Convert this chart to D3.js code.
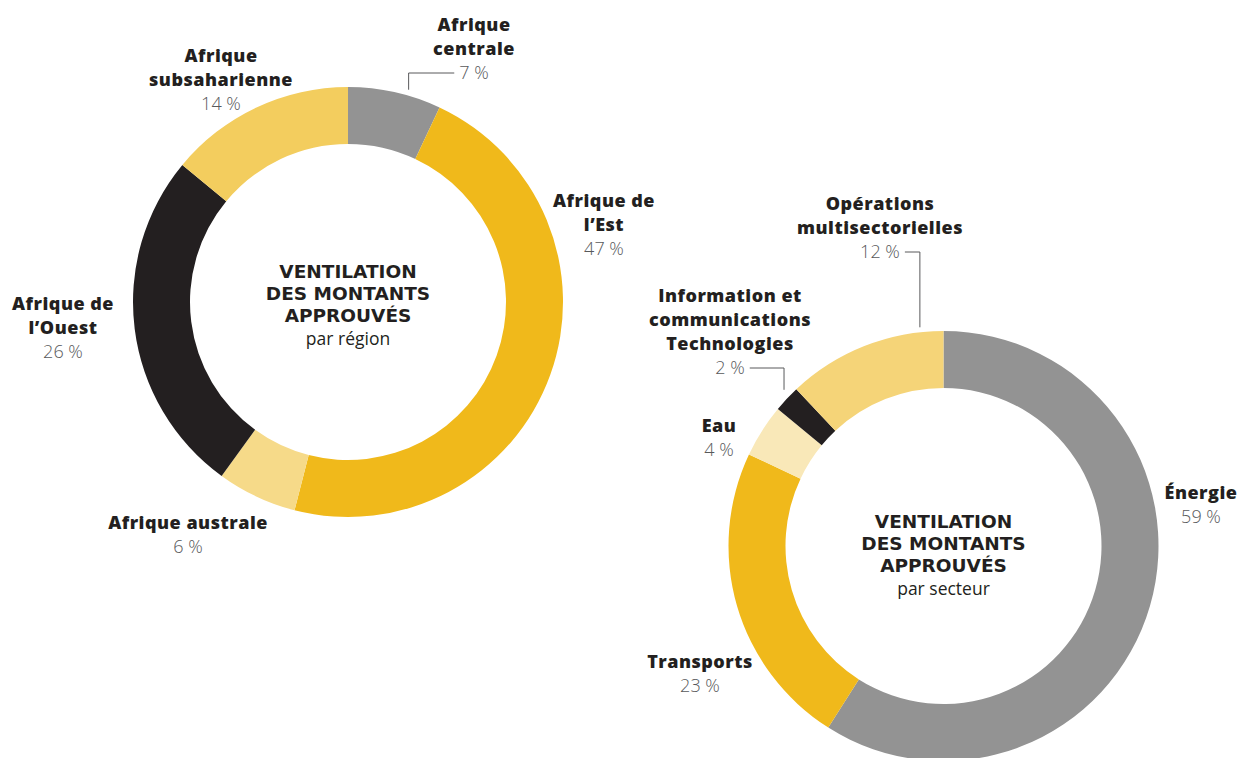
<!DOCTYPE html>
<html>
<head>
<meta charset="utf-8">
<script src="https://cdn.jsdelivr.net/npm/d3@7"></script>
<style>
  body { margin: 0; background: #fff; }
  svg { display: block; }
</style>
</head>
<body>
<div id="chart"></div>
<script>
// Data: region breakdown (clockwise from 12 o'clock)
const regions = [
  ['Afrique', 'centrale'],
  ['Afrique de', 'l\u2019Est'],
  ['Afrique australe'],
  ['Afrique de', 'l\u2019Ouest'],
  ['Afrique', 'subsaharienne']
];
const regionValues = [7, 47, 6, 26, 14];
const regionColors = ['#939393', '#f0b91b', '#f6da89', '#231f20', '#f3cd5e'];

// Data: sector breakdown (clockwise from 12 o'clock)
const sectors = [
  ['\u00c9nergie'],
  ['Transports'],
  ['Eau'],
  ['Information et', 'communications', 'Technologies'],
  ['Op\u00e9rations', 'multisectorielles']
];
const sectorValues = [59, 23, 4, 2, 12];
const sectorColors = ['#939393', '#f0b91b', '#f9e8b8', '#231f20', '#f5d478'];

const centerTitle = ['VENTILATION', 'DES MONTANTS', 'APPROUV\u00c9S'];

// label placement (x = text centre, y = first baseline); leader = {t, gap}
const regionLayout = [
  { x: 474, y: 31, leader: { t: 0.65, gap: 6 } },
  { x: 604, y: 207 },
  { x: 188, y: 529 },
  { x: 63, y: 310 },
  { x: 221, y: 62 }
];
const sectorLayout = [
  { x: 1201, y: 499 },
  { x: 700, y: 668 },
  { x: 719, y: 432 },
  { x: 730, y: 302, leader: { t: 0.35, gap: 12 } },
  { x: 880, y: 210, leader: { t: 0.854, gap: 5 } }
];

const width = 1243;
const height = 758;
const outerR = 215;
const innerR = 158;
const lineH = 24;
const labelFont = '800 18px "Open Sans", sans-serif';
const pctFont = '300 18px "Open Sans", sans-serif';
const titleFont = '700 18.5px "DejaVu Sans", sans-serif';

const svg = d3.select('#chart')
  .append('svg')
  .attr('width', width)
  .attr('height', height);

const pie = d3.pie().sort(null).value(d => d);
const arc = d3.arc().innerRadius(innerR).outerRadius(outerR);

function drawDonut(cx, cy, names, values, colors, layout, subtitle, titleY) {
  const g = svg.append('g').attr('transform', `translate(${cx},${cy})`);
  const arcs = pie(values);

  g.selectAll('path')
    .data(arcs)
    .enter()
    .append('path')
    .attr('d', arc)
    .attr('fill', (d, i) => colors[i]);

  // centre title
  const title = g.append('text')
    .attr('text-anchor', 'middle')
    .attr('fill', '#231f20');
  centerTitle.forEach((t, i) => {
    title.append('tspan')
      .attr('x', 0)
      .attr('y', titleY + i * 22)
      .style('font', titleFont)
      .text(t);
  });
  title.append('tspan')
    .attr('x', 0)
    .attr('y', titleY + 2 * 22 + 23)
    .style('font', '400 17.5px "Open Sans", sans-serif')
    .text(subtitle);

  // labels
  arcs.forEach((a, i) => {
    const L = layout[i];
    const t = svg.append('text')
      .attr('text-anchor', 'middle');
    names[i].forEach((line, j) => {
      t.append('tspan')
        .attr('x', L.x)
        .attr('y', L.y + j * lineH)
        .attr('fill', '#231f20')
        .style('font', labelFont)
        .style('letter-spacing', '0.5px')
        .text(line);
    });
    const pctY = L.y + names[i].length * lineH;
    const pct = svg.append('text')
      .attr('x', L.x)
      .attr('y', pctY)
      .attr('text-anchor', 'middle')
      .attr('fill', '#58595b')
      .style('font', pctFont)
      .text(`${values[i]} %`);

    if (L.leader) {
      const ang = a.startAngle + L.leader.t * (a.endAngle - a.startAngle);
      const px = cx + outerR * Math.sin(ang);
      const py = cy - outerR * Math.cos(ang) - L.leader.gap;
      const ly = pctY - 6;
      const pw = pct.node().getComputedTextLength();
      const x2 = px > L.x ? L.x + pw / 2 + 5 : L.x - pw / 2 - 5;
      svg.append('path')
        .attr('d', d3.line()([[x2, ly], [px, ly], [px, py]]))
        .attr('fill', 'none')
        .attr('stroke', '#58595b')
        .attr('stroke-width', 1);
    }
  });
}

drawDonut(348, 302, regions, regionValues, regionColors, regionLayout, 'par r\u00e9gion', -24);
drawDonut(943.5, 546, sectors, sectorValues, sectorColors, sectorLayout, 'par secteur', -18);
</script>
</body>
</html>
